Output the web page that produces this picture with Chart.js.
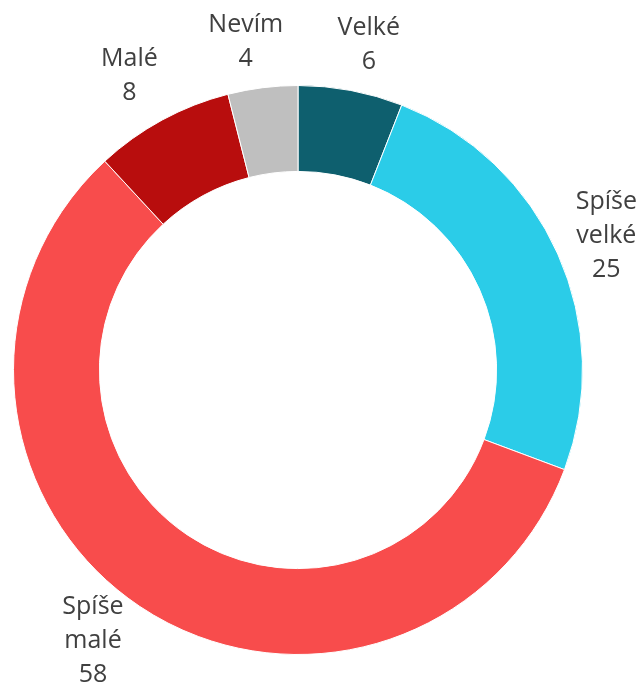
<!DOCTYPE html>
<html>
<head>
<meta charset="utf-8">
<script src="https://cdn.jsdelivr.net/npm/chart.js@4/dist/chart.umd.min.js"></script>
<style>
  html, body { margin: 0; padding: 0; background: #fff; }
  #wrap { width: 639px; height: 688px; }
</style>
</head>
<body>
<div id="wrap"><canvas id="chart" width="639" height="688"></canvas></div>
<script>
// Answers, clockwise from the top
const categories = ['Velké', 'Spíše velké', 'Spíše malé', 'Malé', 'Nevím'];
const values = [6, 25, 58, 8, 4];
const colors = ['#0E5F6E', '#2BCCE8', '#F84C4C', '#B80D0D', '#BFBFBF'];

const FONT = '25px "Open Sans", "Noto Sans", sans-serif';
const LINE_H = 34;

// one word per line, value underneath
function labelLines(i) {
  return categories[i].split(' ').concat([String(values[i])]);
}

const outsideLabels = {
  id: 'outsideLabels',
  afterDatasetsDraw(chart) {
    const ctx = chart.ctx;
    const meta = chart.getDatasetMeta(0);
    ctx.save();
    ctx.font = FONT;
    ctx.fillStyle = '#404040';
    ctx.textAlign = 'center';
    ctx.textBaseline = 'middle';
    meta.data.forEach((arc, i) => {
      const lines = labelLines(i);
      const mid = (arc.startAngle + arc.endAngle) / 2;
      const ux = Math.cos(mid), uy = Math.sin(mid);
      const r = arc.outerRadius + 12;
      const ax = arc.x + ux * r, ay = arc.y + uy * r;
      const hw = Math.max(...lines.map(l => ctx.measureText(l).width)) / 2;
      const hh = lines.length * LINE_H / 2;
      // push the text box out until its edge touches the anchor point
      const d = Math.min(Math.abs(ux) > 1e-6 ? hw / Math.abs(ux) : Infinity,
                         Math.abs(uy) > 1e-6 ? hh / Math.abs(uy) : Infinity);
      let cx = ax + ux * d + Math.sign(ux) * hw * 0.3;
      let cy = ay + uy * d;
      cx = Math.min(Math.max(cx, hw + 2), chart.width - hw - 2);
      cy = Math.min(Math.max(cy, hh - 4), chart.height - hh + 4);
      lines.forEach((l, k) => {
        ctx.fillText(l, cx, cy - hh + LINE_H * (k + 0.5));
      });
    });
    ctx.restore();
  }
};

new Chart(document.getElementById('chart').getContext('2d'), {
  type: 'doughnut',
  data: {
    labels: categories,
    datasets: [{
      data: values,
      backgroundColor: colors,
      borderColor: '#ffffff',
      borderWidth: 1
    }]
  },
  options: {
    responsive: false,
    animation: false,
    cutout: '69.8%',
    layout: { padding: { top: 85, bottom: 33, left: 13, right: 56 } },
    plugins: {
      legend: { display: false },
      tooltip: { enabled: false }
    }
  },
  plugins: [outsideLabels]
});
</script>
</body>
</html>
